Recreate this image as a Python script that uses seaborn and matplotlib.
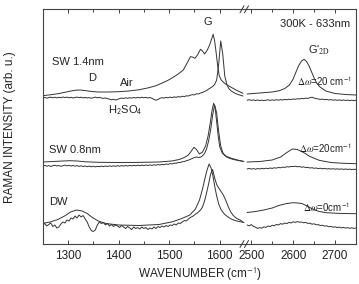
import numpy as np
import matplotlib
matplotlib.use('agg')
import matplotlib.pyplot as plt
import seaborn as sns

sns.set_style('ticks')
plt.rcParams['font.family'] = ['Liberation Sans', 'DejaVu Sans']
plt.rcParams['mathtext.fontset'] = 'stix'

# ---- data (intensity in arbitrary units, offsets included) ----
# noisy H2SO4 spectra share a regular wavenumber grid
wn_left = np.arange(1250, 1650, 4)      # 1250 .. 1646
wn_right = np.arange(2490, 2751, 5)     # 2490 .. 2750

sw14_acid_left = [
    146.0, 146.6, 145.8, 146.4, 146.9, 146.2, 146.8, 146.1, 146.7, 146.3,
    147.0, 146.4, 146.9, 146.2, 146.7, 146.0, 146.5, 146.9, 146.3, 146.8,
    146.1, 146.6, 146.0, 146.4, 145.8, 146.3, 146.9, 146.2, 146.7, 146.0,
    145.6, 146.1, 145.3, 144.8, 144.2, 144.7, 144.0, 144.6, 145.4, 146.0,
    145.5, 146.2, 145.7, 146.3, 145.9, 146.5, 146.0, 146.6, 146.1, 146.8,
    146.2, 146.7, 146.0, 146.5, 145.7, 144.6, 143.8, 144.5, 145.8, 146.3,
    145.9, 146.6, 146.2, 146.9, 146.4, 147.1, 146.7, 147.4, 147.0, 147.8,
    147.4, 148.2, 148.0, 148.9, 149.3, 149.1, 150.2, 150.0, 151.0, 151.5,
    152.6, 153.4, 154.9, 156.2, 157.5, 159.5, 164.0, 180.0, 203.0, 190.0,
    168.0, 159.5, 155.5, 153.3, 152.0, 150.8, 150.0, 149.2, 148.6, 148.0,
]
sw08_acid_left = [
    78.0, 78.6, 77.8, 78.4, 77.6, 78.2, 78.8, 78.0, 78.5, 77.7,
    78.3, 78.9, 78.1, 78.7, 78.0, 78.5, 77.8, 78.4, 77.6, 78.2,
    77.5, 78.0, 77.3, 77.9, 77.2, 77.8, 77.1, 77.7, 77.3, 77.9,
    77.4, 78.0, 77.5, 78.1, 77.6, 78.2, 77.7, 78.3, 77.8, 78.4,
    77.9, 78.5, 78.0, 78.6, 78.1, 78.7, 78.2, 78.8, 78.3, 78.9,
    78.4, 79.0, 78.5, 79.1, 78.6, 79.2, 78.8, 79.5, 79.0, 79.7,
    79.3, 80.0, 79.6, 80.4, 80.1, 80.9, 80.7, 81.5, 81.4, 82.3,
    82.4, 83.3, 83.8, 84.7, 85.6, 86.5, 87.0, 86.6, 86.8, 88.2,
    90.5, 95.0, 103.0, 114.0, 129.0, 139.0, 131.0, 112.0, 98.0, 91.5,
    88.5, 87.0, 86.0, 85.3, 84.7, 84.2, 83.8, 83.4, 83.0, 82.7,
]
dw_acid_left = [
    19.0, 20.5, 18.0, 19.5, 21.0, 17.5, 19.0, 16.0, 17.0, 20.0,
    22.0, 21.0, 24.0, 23.0, 26.0, 25.0, 28.0, 26.0, 29.0, 27.0,
    28.5, 25.0, 22.0, 17.0, 13.5, 12.5, 14.0, 19.0, 22.0, 20.5,
    21.5, 19.0, 20.5, 18.0, 19.5, 17.5, 19.0, 18.0, 16.5, 18.5,
    17.0, 15.5, 17.5, 16.0, 14.5, 17.0, 15.5, 16.5, 15.0, 17.0,
    15.5, 16.5, 14.5, 16.0, 15.0, 17.0, 15.5, 17.5, 16.5, 18.0,
    17.0, 18.5, 17.5, 19.0, 18.5, 20.0, 19.0, 21.0, 20.5, 22.0,
    23.5, 23.0, 25.0, 26.5, 27.5, 29.0, 30.5, 32.0, 34.0, 37.0,
    43.0, 51.0, 60.0, 70.0, 74.5, 66.0, 59.5, 56.0, 53.0, 50.0,
    46.0, 41.0, 36.0, 32.0, 29.0, 27.0, 25.5, 24.5, 23.5, 22.0,
]

sw14_acid_right = [
    143.8, 144.3, 143.6, 144.1, 143.5, 144.0, 143.4, 143.9, 143.3, 143.8,
    144.2, 143.6, 144.1, 143.7, 144.3, 143.8, 144.4, 144.0, 144.6, 144.2,
    144.8, 144.4, 145.0, 144.7, 145.3, 145.0, 145.6, 145.3, 145.9, 145.6,
    146.3, 146.8, 145.9, 145.4, 145.0, 144.6, 144.9, 144.3, 144.6, 144.0,
    144.4, 143.8, 144.2, 143.7, 144.1, 143.6, 144.0, 143.5, 143.9, 143.4,
    143.8, 143.3, 143.7,
]
sw08_acid_right = [
    75.0, 75.6, 74.9, 75.4, 74.8, 75.5, 75.0, 75.7, 75.2, 75.8,
    75.4, 76.0, 75.6, 76.2, 75.9, 76.5, 76.2, 76.9, 76.6, 77.3,
    77.0, 77.6, 77.4, 77.8, 77.2, 77.5, 76.8, 77.1, 76.4, 76.7,
    76.0, 76.3, 75.7, 76.0, 75.4, 75.8, 75.2, 75.6, 75.0, 75.4,
    74.9, 75.3, 74.8, 75.2, 74.7, 75.1, 74.6, 75.0, 74.5, 74.9,
    74.4, 74.8, 74.5,
]
dw_acid_right = [
    19.0, 18.2, 19.4, 17.6, 16.8, 15.6, 16.4, 15.8, 17.2, 16.6,
    18.0, 17.4, 18.8, 18.2, 19.6, 19.0, 20.4, 19.8, 21.0, 20.4,
    21.6, 21.0, 22.2, 21.6, 22.4, 21.8, 22.0, 21.2, 21.6, 20.6,
    20.8, 19.8, 20.2, 19.2, 19.4, 18.4, 18.8, 17.8, 18.2, 17.2,
    17.6, 16.8, 17.2, 16.4, 16.9, 16.1, 16.6, 15.9, 16.4, 15.7,
    16.2, 15.6, 16.0,
]

# smooth "Air" spectra, read point by point
sw14_air_wn = [1250, 1265, 1280, 1295, 1305, 1315, 1324, 1333, 1345, 1360, 1380,
               1400, 1420, 1440, 1460, 1475, 1485, 1497, 1508, 1518, 1528, 1537,
               1542, 1546, 1551, 1556, 1562, 1566, 1570, 1575, 1580, 1584, 1587,
               1590, 1593, 1596, 1599, 1603, 1610, 1620, 1632, 1646]
sw14_air_int = [148.3, 149.2, 150.3, 151.8, 152.9, 153.8, 154.0, 153.5, 152.6, 152.0,
                152.0, 152.3, 153.0, 154.2, 156.3, 158.5, 160.7, 163.5, 166.7, 170.0,
                174.0, 182.3, 187.3, 187.0, 185.7, 189.0, 194.7, 193.0, 190.0, 193.5,
                199.0, 205.0, 209.7, 203.0, 191.0, 178.0, 168.5, 164.0, 160.5, 157.5,
                154.0, 150.7]
sw08_air_wn = [1250, 1270, 1290, 1304, 1318, 1335, 1360, 1400, 1440, 1480, 1505,
               1520, 1530, 1538, 1544, 1549, 1554, 1560, 1566, 1572, 1577, 1581,
               1585, 1588, 1591, 1594, 1597, 1600, 1605, 1612, 1623, 1635, 1648]
sw08_air_int = [82.0, 82.5, 83.0, 83.3, 83.0, 82.2, 81.7, 81.5, 81.6, 82.0, 83.0,
                84.5, 86.5, 89.0, 93.0, 96.7, 94.5, 90.0, 92.0, 98.0, 108.0, 120.0,
                134.0, 140.7, 136.0, 122.0, 108.0, 97.3, 91.0, 88.0, 85.7, 84.0, 82.5]
dw_air_wn = [1250, 1265, 1280, 1295, 1305, 1317, 1328, 1338, 1348, 1360, 1375, 1400,
             1440, 1480, 1507, 1525, 1541, 1552, 1560, 1566, 1571, 1575, 1579, 1583,
             1587, 1590, 1594, 1598, 1603, 1610, 1620, 1630, 1640, 1648]
dw_air_int = [20.7, 22.0, 24.5, 28.5, 32.0, 34.0, 33.0, 30.5, 26.5, 23.0, 20.5, 19.0,
              18.5, 19.5, 22.3, 25.5, 29.0, 35.0, 44.0, 55.0, 66.0, 74.0, 80.0, 76.0,
              67.0, 58.0, 48.0, 40.0, 34.0, 29.5, 25.7, 23.5, 22.3, 21.5]

sw14_air_wn_r = [2490, 2520, 2550, 2567, 2580, 2591, 2600, 2607, 2614, 2620, 2626,
                 2632, 2638, 2644, 2650, 2656, 2664, 2678, 2700, 2725, 2750]
sw14_air_int_r = [150.0, 151.0, 152.0, 153.3, 155.5, 159.0, 165.0, 172.3, 179.0, 183.0,
                  184.7, 182.5, 178.0, 172.0, 166.0, 161.0, 157.0, 153.0, 150.5, 149.5, 149.0]
sw08_air_wn_r = [2490, 2520, 2550, 2570, 2585, 2598, 2610, 2625, 2640, 2662, 2690, 2720, 2750]
sw08_air_int_r = [82.0, 82.5, 84.0, 87.0, 91.5, 95.0, 94.5, 91.5, 87.5, 83.7, 81.5, 80.7, 80.3]
dw_air_wn_r = [2490, 2510, 2530, 2550, 2567, 2585, 2600, 2612, 2622, 2633, 2645, 2660,
               2678, 2710, 2750]
dw_air_int_r = [31.5, 32.5, 34.0, 36.0, 38.7, 40.5, 41.3, 41.0, 40.3, 38.0, 35.3, 32.8,
                31.3, 30.6, 30.3]

ticks_left = [1300, 1400, 1500, 1600]
ticks_right = [2500, 2600, 2700]

# ---- figure ----
W, H = 359, 284
fig = plt.figure(figsize=(W / 100, H / 100), dpi=100)
x0, x_break, x1 = 42.7, 245.0, 356.0
ytop, ybot = 9.3, 244.0
ax1 = fig.add_axes([x0 / W, 1 - ybot / H, (x_break - x0) / W, (ybot - ytop) / H])
ax2 = fig.add_axes([x_break / W, 1 - ybot / H, (x1 - x_break) / W, (ybot - ytop) / H])

lc = '#333333'
lw = 0.7
kw = dict(color=lc, linewidth=lw, estimator=None, sort=False)

sns.lineplot(x=sw14_air_wn, y=sw14_air_int, ax=ax1, **kw)
sns.lineplot(x=wn_left, y=sw14_acid_left, ax=ax1, **kw)
sns.lineplot(x=sw08_air_wn, y=sw08_air_int, ax=ax1, **kw)
sns.lineplot(x=wn_left, y=sw08_acid_left, ax=ax1, **kw)
sns.lineplot(x=dw_air_wn, y=dw_air_int, ax=ax1, **kw)
sns.lineplot(x=wn_left, y=dw_acid_left, ax=ax1, **kw)

sns.lineplot(x=sw14_air_wn_r, y=sw14_air_int_r, ax=ax2, **kw)
sns.lineplot(x=wn_right, y=sw14_acid_right, ax=ax2, **kw)
sns.lineplot(x=sw08_air_wn_r, y=sw08_air_int_r, ax=ax2, **kw)
sns.lineplot(x=wn_right, y=sw08_acid_right, ax=ax2, **kw)
sns.lineplot(x=dw_air_wn_r, y=dw_air_int_r, ax=ax2, **kw)
sns.lineplot(x=wn_right, y=dw_acid_right, ax=ax2, **kw)

for ax, lim, maj, mnr in [(ax1, (1250, 1650), ticks_left, [1350, 1450, 1550]),
                          (ax2, (2485, 2750), ticks_right, [2550, 2650])]:
    ax.set_xlim(*lim)
    ax.set_ylim(0, 234.7)
    ax.set_xticks(maj)
    ax.set_xticks(mnr, minor=True)
    ax.set_yticks([])
    ax.set_xlabel('')
    ax.set_ylabel('')
    ax.tick_params(which='both', direction='in', top=True, bottom=True,
                   color='#444444', width=0.7, labelsize=8.5, pad=4,
                   labelcolor='#222222')
    ax.tick_params(which='major', length=3.2)
    ax.tick_params(which='minor', length=2.2)
    for s in ax.spines.values():
        s.set_linewidth(0.8)
        s.set_color('#444444')
    ax.patch.set_alpha(0)

ax1.spines['right'].set_visible(False)
ax2.spines['left'].set_visible(False)

# break marks
for yy in (ytop, ybot):
    for cx in (242.0, 246.5):
        fig.add_artist(plt.Line2D([(cx - 2.0) / W, (cx + 2.0) / W],
                                  [1 - (yy + 3.5) / H, 1 - (yy - 3.5) / H],
                                  color='#333333', lw=0.7))

fs = 8
tc = '#222222'
ax1.text(1268, 182, 'SW 1.4nm', fontsize=fs, color=tc, ha='left', va='center')
ax1.text(1348, 166, 'D', fontsize=fs, color=tc, ha='center', va='center')
ax1.text(1416, 161, 'Air', fontsize=fs, color=tc, ha='center', va='center')
ax1.text(1414, 134, r'H$_{\mathsf{2}}$SO$_{\mathsf{4}}$', fontsize=fs, color=tc,
         ha='center', va='center')
ax1.text(1576, 222, 'G', fontsize=fs, color=tc, ha='center', va='center')
ax1.text(1262, 94, 'SW 0.8nm', fontsize=fs, color=tc, ha='left', va='center')
ax1.text(1262, 42, 'DW', fontsize=fs, color=tc, ha='left', va='center')

ax2.text(2652, 220, '300K - 633nm', fontsize=fs, color=tc, ha='center', va='center')
ax2.text(2662, 194, r"G'$_{\mathrm{2D}}$", fontsize=fs, color=tc, ha='center', va='center')
ax2.text(2741, 163, r'$\Delta\omega$=20 cm$^{\mathsf{-1}}$', fontsize=7, color=tc,
         ha='right', va='center')
ax2.text(2738, 95.5, r'$\Delta\omega$=20cm$^{\mathsf{-1}}$', fontsize=7, color=tc,
         ha='right', va='center')
ax2.text(2736, 37, r'$\Delta\omega$=0cm$^{\mathsf{-1}}$', fontsize=7, color=tc,
         ha='right', va='center')

fig.text(10 / W, 1 - 127 / H, 'RAMAN INTENSITY (arb. u.)', rotation=90,
         fontsize=8.5, color=tc, ha='center', va='center')
fig.text(200 / W, 1 - 274.5 / H, r'WAVENUMBER (cm$^{\mathsf{-1}}$)',
         fontsize=8.5, color=tc, ha='center', va='center')

fig.savefig('out.png', dpi=100)
